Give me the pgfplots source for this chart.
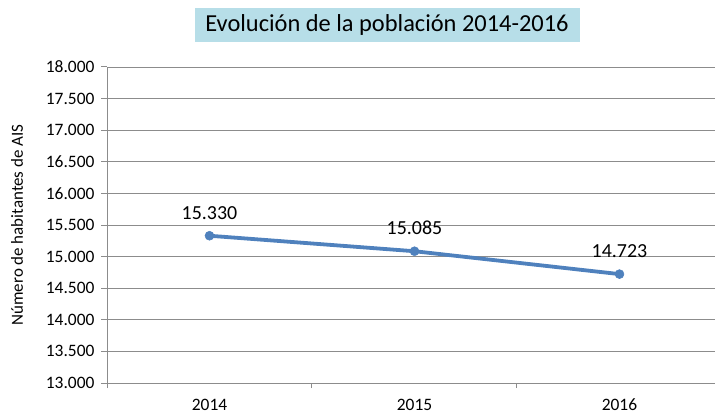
\documentclass[border=0pt]{standalone}
\usepackage{fontspec}
\setmainfont{Carlito}
\usepackage{pgfplots}
\pgfplotsset{compat=1.18}
\definecolor{serie}{HTML}{4F81BD}
\definecolor{titulo}{HTML}{B7DEE8}
\definecolor{rejilla}{HTML}{8C8C8C}
\begin{document}
\begin{tikzpicture}[x=1bp,y=1bp]
\useasboundingbox (0,0) rectangle (715,414);
\begin{axis}[
  at={(107bp,31bp)}, anchor=south west,
  scale only axis, width=608bp, height=316bp,
  xmin=-0.5, xmax=2.466,
  ymin=13000, ymax=18000,
  ytick distance=500,
  scaled ticks=false,
  xtick={0,1,2}, xticklabels={2014,2015,2016},
  minor xtick={-0.5,0.5,1.5},
  major x tick style={draw=none},
  minor x tick style={rejilla, line width=1bp},
  minor tick length=5bp,
  axis x line*=bottom, axis y line*=left,
  axis line style={rejilla, line width=1bp, -},
  ymajorgrids, grid style={rejilla, line width=0.9bp},
  ytick style={rejilla, line width=1bp},
  tick align=outside, major tick length=6bp,
  tick label style={font=\fontsize{17.5}{18}\selectfont},
  yticklabel style={xshift=-3bp},
  xticklabel style={yshift=-6bp, text height=12bp, text depth=0bp},
  /pgf/number format/.cd, fixed, precision=0, 1000 sep={.}, assume math mode=true,
  /pgfplots/.cd,
  ylabel={Número de habitantes de AIS},
  ylabel style={font=\fontsize{17}{18}\selectfont, at={(axis description cs:-0.148,0.5)}, anchor=center},
  clip=false,
]
\addplot[serie, line width=3.8bp, mark=*, mark size=4.5bp, mark options={fill=serie, draw=serie, line width=0.5bp},
  nodes near coords, point meta=explicit symbolic,
  every node near coord/.append style={font=\fontsize{20}{21}\selectfont, text=black, yshift=13bp}]
coordinates {
(0,15330)[15.330]
(1,15085)[15.085]
(2,14723)[14.723]
};
\end{axis}
\node[fill=titulo, minimum width=385bp, minimum height=34bp, inner sep=0pt,
  font=\fontsize{24.5}{26}\selectfont] at (387,389) {Evolución de la población 2014-2016};
\end{tikzpicture}
\end{document}
